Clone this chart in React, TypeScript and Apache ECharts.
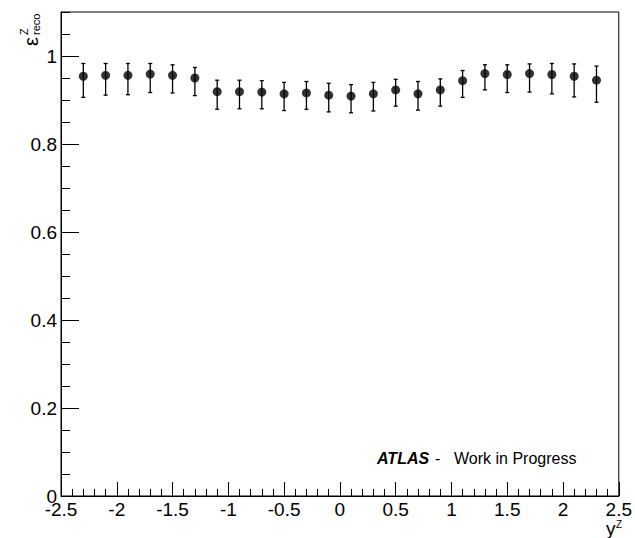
import React, { useEffect, useRef } from "react";
import * as echarts from "echarts";

const yBins = [-2.3, -2.1, -1.9, -1.7, -1.5, -1.3, -1.1, -0.9, -0.7, -0.5, -0.3, -0.1, 0.1, 0.3, 0.5, 0.7, 0.9, 1.1, 1.3, 1.5, 1.7, 1.9, 2.1, 2.3];
const effValues = [0.954, 0.956, 0.956, 0.959, 0.956, 0.950, 0.919, 0.919, 0.918, 0.914, 0.916, 0.911, 0.909, 0.914, 0.923, 0.914, 0.923, 0.944, 0.960, 0.958, 0.960, 0.958, 0.954, 0.945];
const errHigh = [0.983, 0.983, 0.983, 0.983, 0.980, 0.974, 0.945, 0.945, 0.944, 0.940, 0.942, 0.938, 0.935, 0.940, 0.947, 0.942, 0.948, 0.967, 0.980, 0.980, 0.982, 0.983, 0.982, 0.977];
const errLow = [0.906, 0.911, 0.912, 0.917, 0.916, 0.910, 0.879, 0.880, 0.880, 0.876, 0.879, 0.873, 0.871, 0.875, 0.886, 0.877, 0.886, 0.906, 0.923, 0.917, 0.918, 0.914, 0.907, 0.895];

const FONT = "'Liberation Sans', Arial, Helvetica, sans-serif";

export default function App() {
  const ref = useRef<HTMLDivElement>(null);
  useEffect(() => {
    document.body.style.margin = "0";
    if (!ref.current) return;
    const chart = echarts.init(ref.current, null, { renderer: "svg" });
    const grid = { left: 61, top: 12, width: 559, height: 484 };
    chart.setOption({
      animation: false,
      backgroundColor: "#fff",
      grid: { ...grid, show: true, borderColor: "#000", borderWidth: 1, backgroundColor: "transparent" },
      xAxis: [
        {
          type: "value",
          min: -2.5,
          max: 2.5,
          interval: 0.5,
          axisLine: { show: true, onZero: false, lineStyle: { color: "#000", width: 1 } },
          axisTick: { show: true, inside: true, length: 14, lineStyle: { color: "#000" } },
          minorTick: { show: true, splitNumber: 5, length: 7, lineStyle: { color: "#000" } },
          splitLine: { show: false },
          axisLabel: { color: "#000", fontSize: 19, fontFamily: FONT, margin: 4, formatter: (v: number) => String(v) },
        },
      ],
      yAxis: [
        {
          type: "value",
          position: "left",
          min: 0,
          max: 1.1,
          interval: 0.2,
          axisLine: { show: true, onZero: false, lineStyle: { color: "#000", width: 1 } },
          axisTick: { show: true, inside: true, length: 18, lineStyle: { color: "#000" } },
          splitLine: { show: false },
          axisLabel: { color: "#000", fontSize: 19, fontFamily: FONT, margin: 4, showMaxLabel: false, formatter: (v: number) => String(Math.round(v * 10) / 10) },
        },
        {
          type: "value",
          position: "left",
          min: 0,
          max: 1.1,
          interval: 0.05,
          axisLine: { show: false, onZero: false },
          axisTick: { show: true, inside: true, length: 9, lineStyle: { color: "#000" } },
          splitLine: { show: false },
          axisLabel: { show: false },
        },
      ],
      series: [
        {
          type: "custom",
          xAxisIndex: 0,
          yAxisIndex: 0,
          data: yBins.map((x, i) => [x, errLow[i], errHigh[i]]),
          renderItem: (params: any, api: any) => {
            const x = api.value(0);
            const pLo = api.coord([x, api.value(1)]);
            const pHi = api.coord([x, api.value(2)]);
            const c = 2;
            const st = { stroke: "#000", lineWidth: 1.3 };
            return {
              type: "group",
              children: [
                { type: "line", shape: { x1: pLo[0], y1: pLo[1], x2: pHi[0], y2: pHi[1] }, style: st },
                { type: "line", shape: { x1: pLo[0] - c, y1: pLo[1], x2: pLo[0] + c, y2: pLo[1] }, style: st },
                { type: "line", shape: { x1: pHi[0] - c, y1: pHi[1], x2: pHi[0] + c, y2: pHi[1] }, style: st },
              ],
            };
          },
          z: 2,
        },
        {
          type: "scatter",
          xAxisIndex: 0,
          yAxisIndex: 0,
          data: yBins.map((x, i) => [x, effValues[i]]),
          symbol: "circle",
          symbolSize: 9,
          itemStyle: { color: "#000" },
          z: 3,
        },
      ],
      graphic: [
        {
          type: "group",
          x: 31,
          y: 46,
          rotation: Math.PI / 2,
          children: [
            { type: "text", x: 0, y: 0, style: { text: "ε", fontSize: 20, fontFamily: FONT, fill: "#000", textVerticalAlign: "middle", textAlign: "left" } },
            { type: "text", x: 11, y: -7, style: { text: "Z", fontSize: 11, fontFamily: FONT, fill: "#000", textVerticalAlign: "middle", textAlign: "left" } },
            { type: "text", x: 11, y: 5, style: { text: "reco", fontSize: 11, fontFamily: FONT, fill: "#000", textVerticalAlign: "middle", textAlign: "left" } },
          ],
        },
        { type: "text", x: 606, y: 538, style: { text: "y", fontSize: 19, fontFamily: FONT, fill: "#000", textVerticalAlign: "bottom", textAlign: "left" } },
        { type: "text", x: 616, y: 529, style: { text: "Z", fontSize: 10, fontFamily: FONT, fill: "#000", textVerticalAlign: "bottom", textAlign: "left" } },
        { type: "text", x: 377, y: 466, style: { text: "ATLAS", fontSize: 16, fontWeight: "bold", fontStyle: "italic", fontFamily: FONT, fill: "#000", textVerticalAlign: "bottom", textAlign: "left" } },
        { type: "text", x: 435, y: 466, style: { text: "-", fontSize: 16, fontFamily: FONT, fill: "#000", textVerticalAlign: "bottom", textAlign: "left" } },
        { type: "text", x: 454, y: 466, style: { text: "Work in Progress", fontSize: 16, fontFamily: FONT, fill: "#000", textVerticalAlign: "bottom", textAlign: "left" } },
      ],
    });
    return () => chart.dispose();
  }, []);
  return <div ref={ref} style={{ width: 635, height: 538 }} />;
}
